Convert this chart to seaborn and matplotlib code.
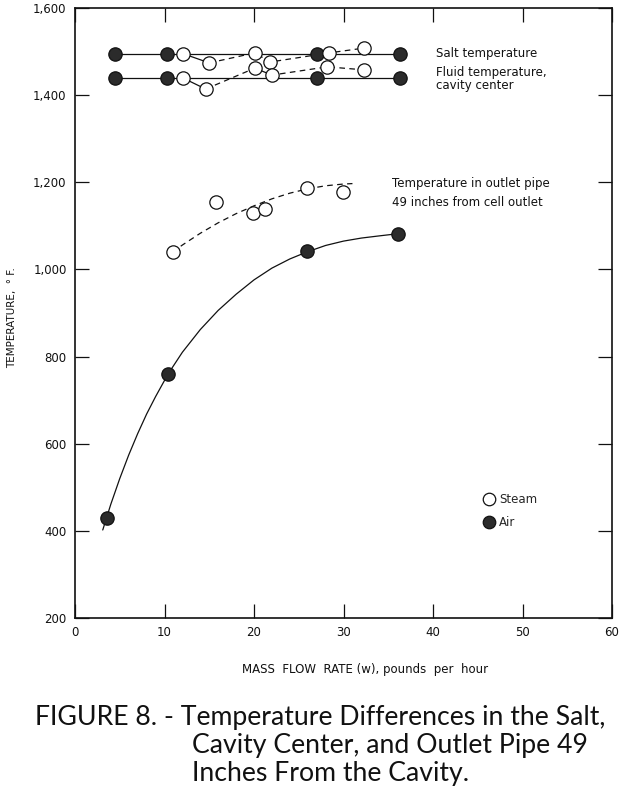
import matplotlib
matplotlib.use("Agg")
import matplotlib.pyplot as plt
import seaborn as sns
from matplotlib.lines import Line2D

# ---------------- data ----------------
x_ticks = [0, 10, 20, 30, 40, 50, 60]
y_ticks = [200, 400, 600, 800, 1000, 1200, 1400, 1600]
y_tick_labels = ["200", "400", "600", "800", "1,000", "1,200", "1,400", "1,600"]

# Air, outlet pipe temperature
air_outlet_x = [3.6, 10.4, 25.9, 36.1]
air_outlet_T = [430, 760, 1042, 1082]
# hand-drawn curve through the air points
air_curve_x = [3.1, 4, 5, 6, 7, 8, 9, 10.4, 12, 14, 16, 18, 20, 22, 24,
               25.9, 28, 30, 32, 34, 36.1]
air_curve_T = [402, 461, 520, 574, 623, 668, 708, 760, 810, 862, 906, 943,
               976, 1003, 1024, 1040, 1055, 1065, 1072, 1077, 1082]

# Air, salt and cavity-centre temperatures
air_top_x = [4.5, 10.3, 27.0, 36.3]
air_salt_T = [1495, 1495, 1495, 1495]
air_fluid_T = [1440, 1440, 1440, 1440]

# Steam, salt and cavity-centre temperatures
steam_salt_x = [12.1, 15.0, 20.1, 21.8, 28.4, 32.3]
steam_salt_T = [1495, 1474, 1497, 1476, 1497, 1508]
steam_fluid_x = [12.1, 14.6, 20.1, 22.0, 28.2, 32.3]
steam_fluid_T = [1439, 1414, 1462, 1446, 1465, 1458]

# Steam, outlet pipe temperature
steam_outlet_x = [10.9, 15.8, 19.9, 21.2, 25.9, 29.9]
steam_outlet_T = [1040, 1155, 1130, 1139, 1187, 1178]
steam_curve_x = [10.9, 12, 14, 16, 18, 20, 22, 24, 26, 28, 30, 31]
steam_curve_T = [1040, 1056, 1083, 1107, 1128, 1146, 1162, 1175, 1185, 1192, 1196, 1197]

legend_labels = ["Steam", "Air"]
caption = ["FIGURE 8. - Temperature Differences in the Salt,",
           "Cavity Center, and Outlet Pipe 49",
           "Inches From the Cavity."]

# ---------------- style ----------------
sns.set_theme(style="ticks")
plt.rcParams["font.family"] = ["DejaVu Sans"]
INK = "#111111"
FILL = "#2b2b2b"
LW = 0.9
MS = 92  # marker area in pt^2
FS = 8.5

fig = plt.figure(figsize=(6.22, 8.01), dpi=100)
fig.patch.set_facecolor("white")
ax = fig.add_axes([75 / 622, 1 - 618 / 801, (612 - 75) / 622, (618 - 8) / 801])
ax.set_facecolor("white")


def line(x, y, ls="-"):
    sns.lineplot(x=x, y=y, ax=ax, color=INK, linewidth=LW, linestyle=ls,
                 estimator=None, sort=False, zorder=2)


def pts(x, y, filled):
    sns.scatterplot(x=x, y=y, ax=ax, s=MS, marker="o",
                    color=FILL if filled else "white",
                    edgecolor=INK, linewidth=0.9, zorder=4)


DASH = (0, (4.5, 3.5))
# air lines
line(air_curve_x, air_curve_T)
line(air_top_x, air_salt_T)
line(air_top_x, air_fluid_T)
# steam lines: first segment solid, remainder dashed
line(steam_salt_x[:2], steam_salt_T[:2])
line(steam_salt_x[1:], steam_salt_T[1:], ls=DASH)
line(steam_fluid_x[:2], steam_fluid_T[:2])
line(steam_fluid_x[1:], steam_fluid_T[1:], ls=DASH)
line(steam_curve_x, steam_curve_T, ls=DASH)

# markers
pts(air_outlet_x, air_outlet_T, True)
pts(air_top_x, air_salt_T, True)
pts(air_top_x, air_fluid_T, True)
pts(steam_salt_x, steam_salt_T, False)
pts(steam_fluid_x, steam_fluid_T, False)
pts(steam_outlet_x, steam_outlet_T, False)

# axes
ax.set_xlim(0, 60)
ax.set_ylim(200, 1600)
ax.set_xticks(x_ticks)
ax.set_xticklabels([str(v) for v in x_ticks])
ax.set_yticks(y_ticks)
ax.set_yticklabels(y_tick_labels)
ax.tick_params(direction="in", length=10, width=0.9, top=True, right=True,
               labelsize=FS, colors=INK, pad=6)
for sp in ax.spines.values():
    sp.set_linewidth(1.2)
    sp.set_color(INK)
ax.set_xlabel("")
ax.set_ylabel("")

fig.text(12 / 622, 1 - 318 / 801, "TEMPERATURE,  \u00b0 F.", rotation=90,
         ha="center", va="center", fontsize=7.5, color=INK)
fig.text(488 / 622, 1 - 670 / 801, "MASS  FLOW  RATE (w), pounds  per  hour",
         ha="right", va="center", fontsize=FS, color=INK)

# annotations
ax.text(0.673, 0.926, "Salt temperature", transform=ax.transAxes,
        fontsize=FS, va="center", ha="left", color=INK)
ax.text(0.673, 0.884, "Fluid temperature,\ncavity center", transform=ax.transAxes,
        fontsize=FS, va="center", ha="left", color=INK, linespacing=0.95)
ax.text(0.590, 0.6965, "Temperature in outlet pipe\n49 inches from cell outlet",
        transform=ax.transAxes, fontsize=FS, va="center", ha="left",
        color=INK, linespacing=1.65)

handles = [Line2D([], [], marker="o", ls="", markersize=9, markerfacecolor="white",
                  markeredgecolor=INK, markeredgewidth=0.9),
           Line2D([], [], marker="o", ls="", markersize=9, markerfacecolor=FILL,
                  markeredgecolor=INK, markeredgewidth=0.9)]
ax.legend(handles, legend_labels, loc="upper left", bbox_to_anchor=(0.747, 0.214),
          frameon=False, fontsize=FS, handletextpad=0.25, labelspacing=0.8,
          borderpad=0, handlelength=1.2)

# caption
cap_fs = 15
t1 = fig.text(35 / 622, 1 - 718 / 801, caption[0], ha="left", va="center",
              fontsize=cap_fs, color=INK, family=["Lato", "DejaVu Sans"])
fig.canvas.draw()
w = t1.get_window_extent().width
cap_fs = cap_fs * 570 / w
t1.set_fontsize(cap_fs)
fig.text(192 / 622, 1 - 746 / 801, caption[1], ha="left", va="center",
         fontsize=cap_fs, color=INK, family=["Lato", "DejaVu Sans"])
fig.text(192 / 622, 1 - 774 / 801, caption[2], ha="left", va="center",
         fontsize=cap_fs, color=INK, family=["Lato", "DejaVu Sans"])

fig.savefig("out.png", dpi=100, facecolor="white")
